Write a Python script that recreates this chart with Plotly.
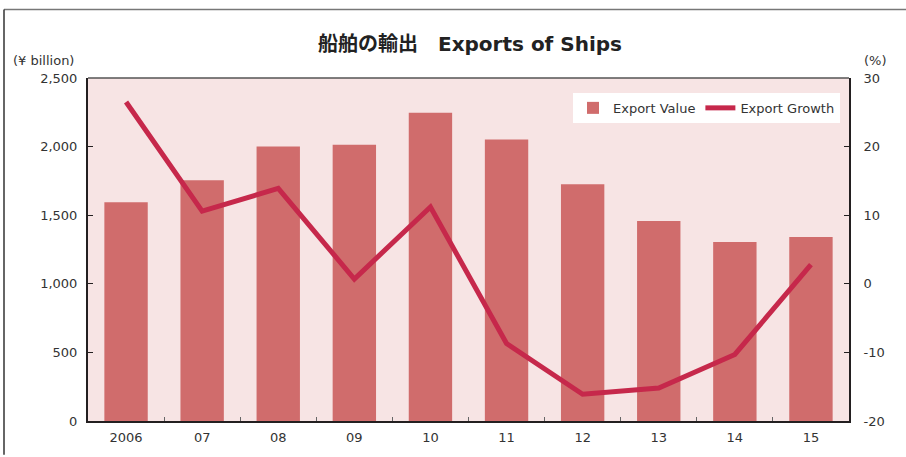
import plotly.graph_objects as go

years = ["2006", "07", "08", "09", "10", "11", "12", "13", "14", "15"]
export_value = [1594, 1754, 2000, 2014, 2246, 2051, 1725, 1457, 1304, 1341]
export_growth = [26.5, 10.6, 13.9, 0.7, 11.2, -8.7, -16.1, -15.2, -10.3, 2.8]
growth_ticks = [-20, -10, 0, 10, 20, 30]
growth_tick_labels = ["-20", "-10", "0", "10", "20", "30"]

FONT = "DejaVu Sans"
TXT = "#333333"

fig = go.Figure()
fig.add_trace(go.Bar(
    x=years, y=export_value, name="Export Value",
    marker=dict(color="#d06c6c", line=dict(width=0)),
))
fig.add_trace(go.Scatter(
    x=years, y=export_growth, name="Export Growth", yaxis="y2",
    mode="lines", line=dict(color="#c6284b", width=5),
))

L, R, T, B = 88, 57, 78, 34
W, H = 906, 457
pw = W - L - R
ph = H - T - B

def px_x(x):
    return (x - L) / pw

def px_y(y):
    return (H - B - y) / ph

fig.update_layout(
    width=W, height=H,
    margin=dict(l=L, r=R, t=T, b=B),
    paper_bgcolor="white",
    plot_bgcolor="#f7e4e4",
    font=dict(family=FONT, size=13, color=TXT),
    bargap=0.43,
    showlegend=True,
    title=dict(
        text="<b>船舶の輸出　Exports of Ships</b>",
        x=470 / W, xanchor="center", y=1 - 44 / H, yanchor="middle",
        font=dict(family=FONT + ", Noto Sans CJK JP", size=20, color="#222222"),
    ),
    legend=dict(
        orientation="h", x=px_x(840), xanchor="right", y=px_y(93), yanchor="top",
        bgcolor="white", font=dict(size=13, color=TXT),
        tracegroupgap=0,
    ),
    xaxis=dict(
        type="category", showline=True, linecolor="#231f20", linewidth=2,
        ticks="inside", tickson="boundaries", ticklen=4, tickcolor="#666666",
        showgrid=False, tickfont=dict(size=13, color=TXT), ticklabelstandoff=3,
    ),
    yaxis=dict(
        range=[0, 2500], dtick=500, tickformat=",", showline=True,
        linecolor="#231f20", linewidth=2, ticks="inside", ticklen=5,
        tickcolor="#231f20", showgrid=False, zeroline=False,
        tickfont=dict(size=13, color=TXT), ticklabelstandoff=6,
    ),
    yaxis2=dict(
        range=[-20, 30], tickmode="array", tickvals=growth_ticks,
        ticktext=growth_tick_labels, overlaying="y", side="right",
        showline=True, linecolor="#231f20", linewidth=2, ticks="inside",
        ticklen=5, tickcolor="#231f20", showgrid=False, zeroline=False,
        tickfont=dict(size=13, color=TXT), ticklabelstandoff=10,
    ),
    shapes=[
        dict(type="line", xref="paper", yref="paper", x0=0, x1=1, y0=1, y1=1,
             line=dict(color="#555555", width=1.5)),
        dict(type="line", xref="paper", yref="paper", x0=px_x(4), x1=px_x(906),
             y0=px_y(9), y1=px_y(9), line=dict(color="#777777", width=1.5)),
        dict(type="line", xref="paper", yref="paper", x0=px_x(4), x1=px_x(4),
             y0=px_y(9), y1=px_y(457), line=dict(color="#333333", width=1.5)),
    ],
    annotations=[
        dict(text="(¥ billion)", xref="paper", yref="paper", x=px_x(76),
             xanchor="right", y=px_y(60), yanchor="middle", showarrow=False,
             font=dict(size=13, color=TXT)),
        dict(text="(%)", xref="paper", yref="paper", x=px_x(862),
             xanchor="left", y=px_y(60), yanchor="middle", showarrow=False,
             font=dict(size=13, color=TXT)),
    ],
)

fig.write_html(
    "out.html",
    config={"displayModeBar": False},
    post_script="document.body.style.margin='0';document.body.style.overflow='hidden';",
)
